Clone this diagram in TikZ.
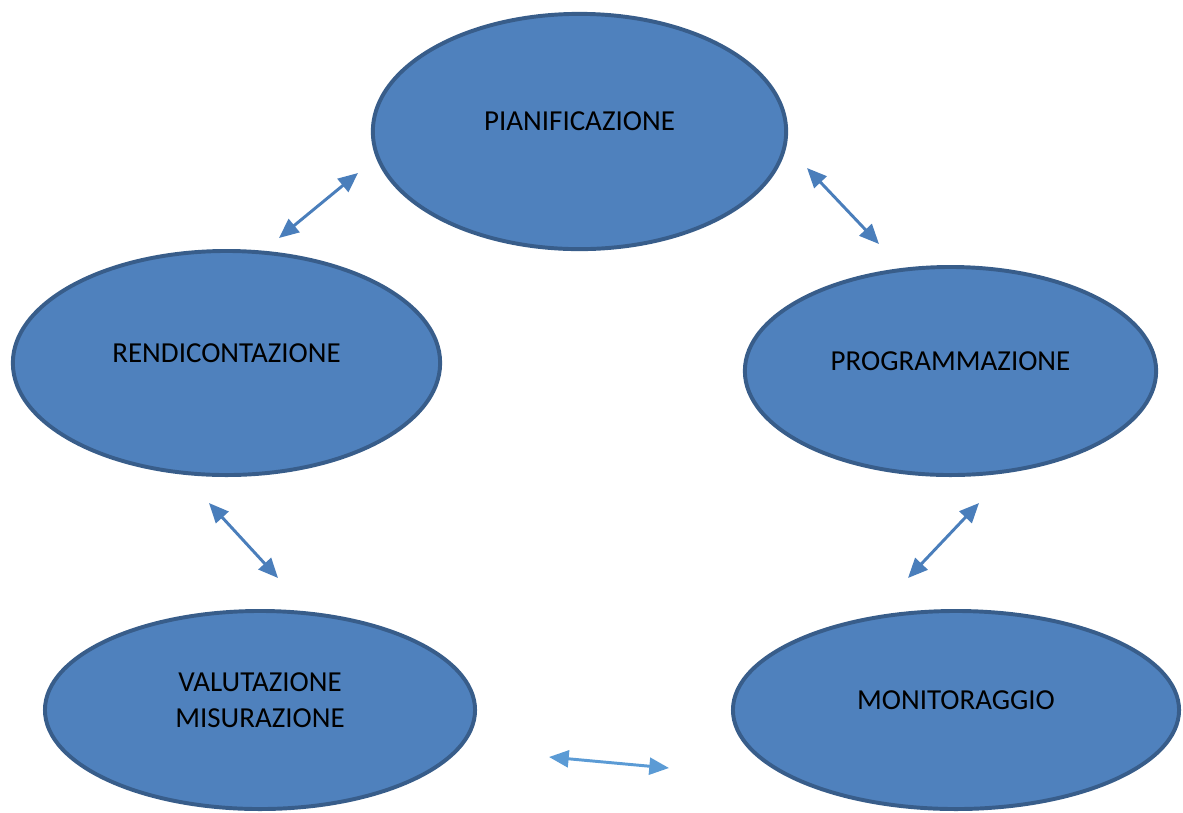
\documentclass[tikz,border=0pt]{standalone}
\usepackage{fontspec}
\setmainfont{Carlito}
\usetikzlibrary{shapes.geometric, arrows.meta}

\definecolor{phasefill}{HTML}{4F81BD}
\definecolor{phaseborder}{HTML}{385D8A}
\definecolor{linkblue}{HTML}{4A7EBB}
\definecolor{linklight}{HTML}{5B9BD5}

\begin{document}
\begin{tikzpicture}[
    x=0.025cm, y=-0.025cm,
    phase/.style={ellipse, draw=phaseborder, fill=phasefill, line width=2.8pt, inner sep=0pt},
    phasetext/.style={font=\fontsize{20.6}{25.6}\selectfont, text=black, align=center, yshift=0.25cm},
    link/.style={{Triangle[length=14pt, width=12pt]}-{Triangle[length=14pt, width=12pt]}, line width=2.1pt, draw=linkblue}
]

\useasboundingbox (0,0) rectangle (1183,812);

% Phases
\node[phase, minimum width=10.33cm, minimum height=5.88cm, label={[phasetext]center:PIANIFICAZIONE}] at (579.5,131.5) (pian) {};
\node[phase, minimum width=10.68cm, minimum height=5.6cm, label={[phasetext]center:RENDICONTAZIONE}] at (226.5,363) (rend) {};
\node[phase, minimum width=10.28cm, minimum height=5.2cm, label={[phasetext]center:PROGRAMMAZIONE}] at (950.5,371) (prog) {};
\node[phase, minimum width=10.75cm, minimum height=4.95cm, label={[phasetext]center:VALUTAZIONE\\MISURAZIONE}] at (260,710) (valu) {};
\node[phase, minimum width=11.15cm, minimum height=4.95cm, label={[phasetext]center:MONITORAGGIO}] at (956,710) (moni) {};

% Arrow ends
\coordinate (rendtop) at (279,238);
\coordinate (piantopleft) at (358,173);
\coordinate (pianright) at (807,168);
\coordinate (progtop) at (879,244);
\coordinate (progbottom) at (979,503);
\coordinate (monitop) at (908,578);
\coordinate (rendbottom) at (209,503);
\coordinate (valutop) at (278,578);
\coordinate (valuright) at (549,757);
\coordinate (monileft) at (669,768);

% Arrows
\draw[link] (rendtop) -- (piantopleft);
\draw[link] (pianright) -- (progtop);
\draw[link] (progbottom) -- (monitop);
\draw[link] (rendbottom) -- (valutop);
\draw[link, draw=linklight] (valuright) -- (monileft);

\end{tikzpicture}
\end{document}
